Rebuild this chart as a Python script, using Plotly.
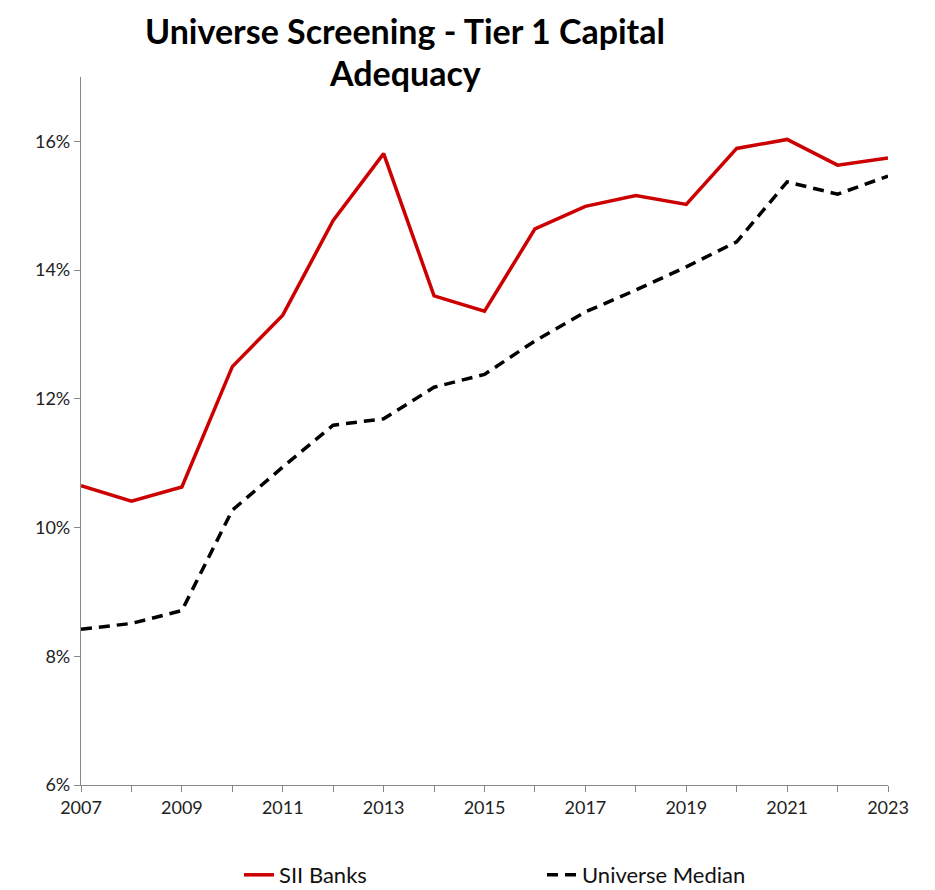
import plotly.graph_objects as go

years = list(range(2007, 2024))
sii_banks = [10.65, 10.41, 10.63, 12.50, 13.30, 14.77, 15.81, 13.60, 13.36,
             14.64, 14.99, 15.16, 15.02, 15.89, 16.03, 15.63, 15.74]
universe_median = [8.42, 8.51, 8.71, 10.27, 10.94, 11.59, 11.69, 12.18, 12.38,
                   12.90, 13.35, 13.69, 14.05, 14.44, 15.37, 15.18, 15.46]
x_tick_labels = [str(y) if (y - 2007) % 2 == 0 else "" for y in years]
y_tick_vals = [6, 8, 10, 12, 14, 16]
y_tick_labels = ["6%", "8%", "10%", "12%", "14%", "16%"]

FONT = "Lato"
W, H = 927, 882
ML, MR, MT, MB = 73, 47, 69, 105
PW, PH = W - ML - MR, H - MT - MB


def px_to_paper_x(px):
    return (px - ML) / PW


def px_to_paper_y(py):
    return (H - MB - py) / PH


fig = go.Figure()
fig.add_trace(go.Scatter(x=years, y=sii_banks, mode="lines", name="SII Banks",
                         line=dict(color="#CC0000", width=3.5)))
fig.add_trace(go.Scatter(x=years, y=universe_median, mode="lines", name="Universe Median",
                         line=dict(color="#000000", width=3.5, dash="11px,7px")))

fig.update_layout(
    width=W, height=H,
    margin=dict(l=ML, r=MR, t=MT, b=MB, autoexpand=False),
    paper_bgcolor="white", plot_bgcolor="white",
    font=dict(family=FONT, size=18, color="#222222"),
    showlegend=True,
    legend=dict(orientation="h", xref="container", yref="container",
                x=231 / W, xanchor="left", y=1 - 867 / H, yanchor="middle",
                font=dict(family=FONT, size=22, color="#111111"),
                entrywidth=258, entrywidthmode="pixels", bgcolor="rgba(0,0,0,0)"),
    xaxis=dict(range=[2007, 2023], tickmode="array", tickvals=years, ticktext=x_tick_labels,
               showgrid=False, zeroline=False, showline=True, linecolor="#888888", linewidth=1.2,
               ticks="outside", ticklen=6, tickcolor="#888888",
               tickfont=dict(family=FONT, size=18, color="#222222")),
    yaxis=dict(range=[6, 17], tickmode="array", tickvals=y_tick_vals, ticktext=y_tick_labels,
               showgrid=False, zeroline=False, showline=True, linecolor="#888888", linewidth=1.2,
               ticks="outside", ticklen=6, tickcolor="#888888",
               tickfont=dict(family=FONT, size=18, color="#222222")),
    annotations=[
        dict(text="<b>Universe Screening - Tier 1 Capital</b>", xref="paper", yref="paper",
             x=px_to_paper_x(397), y=px_to_paper_y(0), xanchor="center", yanchor="top",
             showarrow=False, font=dict(family=FONT, size=34, color="#000000")),
        dict(text="<b>Adequacy</b>", xref="paper", yref="paper",
             x=px_to_paper_x(397), y=px_to_paper_y(65), xanchor="center", yanchor="middle",
             showarrow=False, font=dict(family=FONT, size=34, color="#000000")),
    ],
)

fig.write_html("out.html")
